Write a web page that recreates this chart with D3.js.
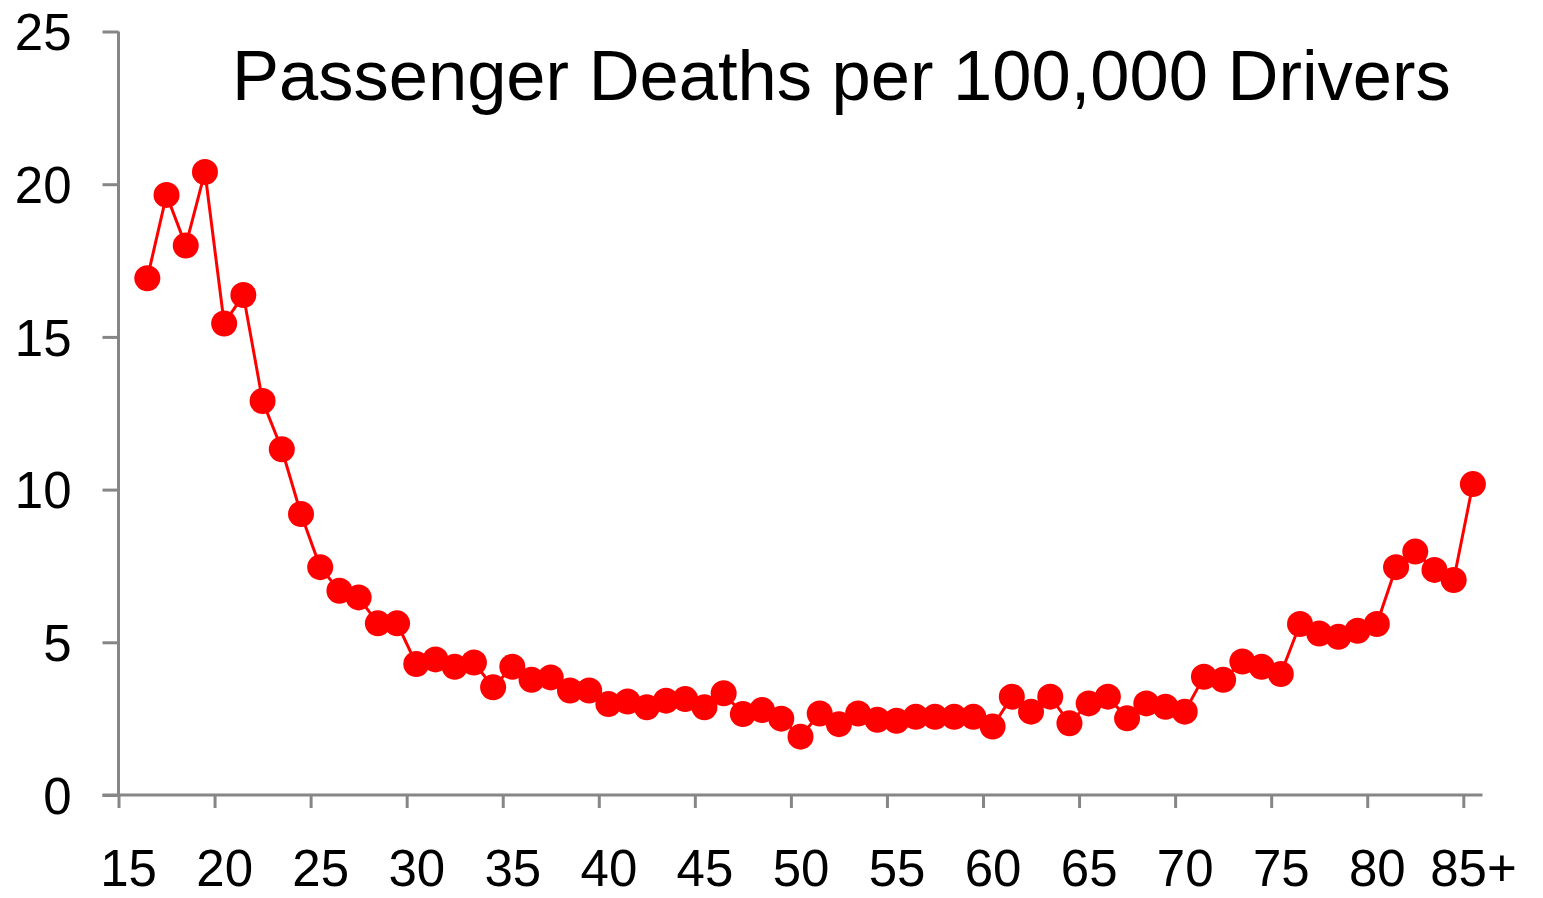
<!DOCTYPE html>
<html>
<head>
<meta charset="utf-8">
<script src="https://cdn.jsdelivr.net/npm/d3@7"></script>
<style>
  body { margin: 0; background: #fff; }
  text { font-family: "Liberation Sans", Arial, sans-serif; }
</style>
</head>
<body>
<svg id="chart" width="1543" height="898"></svg>
<script>
// ages 16..85 (85 = 85+)
const ages = d3.range(16, 86);
const deaths = [
  16.92, 19.65, 17.99, 20.40, 15.44, 16.37, 12.90, 11.32, 9.20, 7.46,
  6.69, 6.47, 5.62, 5.62, 4.29, 4.44, 4.20, 4.34, 3.53, 4.20,
  3.77, 3.85, 3.42, 3.42, 2.98, 3.06, 2.87, 3.09, 3.14, 2.87,
  3.33, 2.65, 2.78, 2.50, 1.91, 2.67, 2.32, 2.67, 2.46, 2.43,
  2.56, 2.56, 2.56, 2.56, 2.24, 3.22, 2.73, 3.22, 2.35, 3.00,
  3.22, 2.51, 3.00, 2.89, 2.73, 3.87, 3.77, 4.37, 4.20, 3.96,
  5.60, 5.29, 5.18, 5.38, 5.60, 7.46, 7.97, 7.37, 7.04, 10.18
];
const xTicks = [15, 20, 25, 30, 35, 40, 45, 50, 55, 60, 65, 70, 75, 80, 85];
const xTickLabels = ["15", "20", "25", "30", "35", "40", "45", "50", "55", "60", "65", "70", "75", "80", "85+"];
const yTicks = [0, 5, 10, 15, 20, 25];
const title = "Passenger Deaths per 100,000 Drivers";

const data = ages.map((a, i) => ({ age: a, value: deaths[i] }));

const svg = d3.select('#chart');
const axisColor = '#868686';

const x = d3.scaleLinear().domain([15, 86]).range([118.5, 1482.5]);
const y = d3.scaleLinear().domain([0, 25]).range([795, 31.5]);
const half = x(15.5) - x(15);

// y axis
const yAxis = svg.append('g')
  .attr('transform', `translate(${x(15)},0)`)
  .call(d3.axisLeft(y).tickValues(yTicks).tickSize(16).tickPadding(31).tickFormat(d3.format('d')));
yAxis.select('.domain').attr('stroke', axisColor).attr('stroke-width', 3)
  .attr('d', `M0,${y(25)}V${y(0)}`);
yAxis.selectAll('.tick line').attr('stroke', axisColor).attr('stroke-width', 3);
yAxis.selectAll('.tick text')
  .attr('fill', '#000')
  .attr('font-size', 51)
  .attr('dy', '0.36em');

// x axis
const xAxis = svg.append('g')
  .attr('transform', `translate(0,${y(0)})`)
  .call(d3.axisBottom(x).tickValues(xTicks).tickSize(13)
    .tickFormat((d, i) => xTickLabels[i]));
xAxis.select('.domain').attr('stroke', axisColor).attr('stroke-width', 3)
  .attr('d', `M${x(15) - 16},0H${x(86)}`);
xAxis.selectAll('.tick line').attr('stroke', axisColor).attr('stroke-width', 3);
xAxis.selectAll('.tick text')
  .attr('fill', '#000')
  .attr('font-size', 51)
  .attr('x', half)
  .attr('y', 91)
  .attr('dy', 0);

// line + markers
const line = d3.line()
  .x(d => x(d.age + 0.5))
  .y(d => y(d.value));

svg.append('path')
  .datum(data)
  .attr('fill', 'none')
  .attr('stroke', '#ff0000')
  .attr('stroke-width', 3)
  .attr('d', line);

svg.append('g')
  .selectAll('circle')
  .data(data)
  .join('circle')
  .attr('cx', d => x(d.age + 0.5))
  .attr('cy', d => y(d.value))
  .attr('r', 13)
  .attr('fill', '#ff0000');

// title
svg.append('text')
  .attr('x', 232)
  .attr('y', 100)
  .attr('font-size', 70.5)
  .attr('fill', '#000')
  .text(title);
</script>
</body>
</html>
